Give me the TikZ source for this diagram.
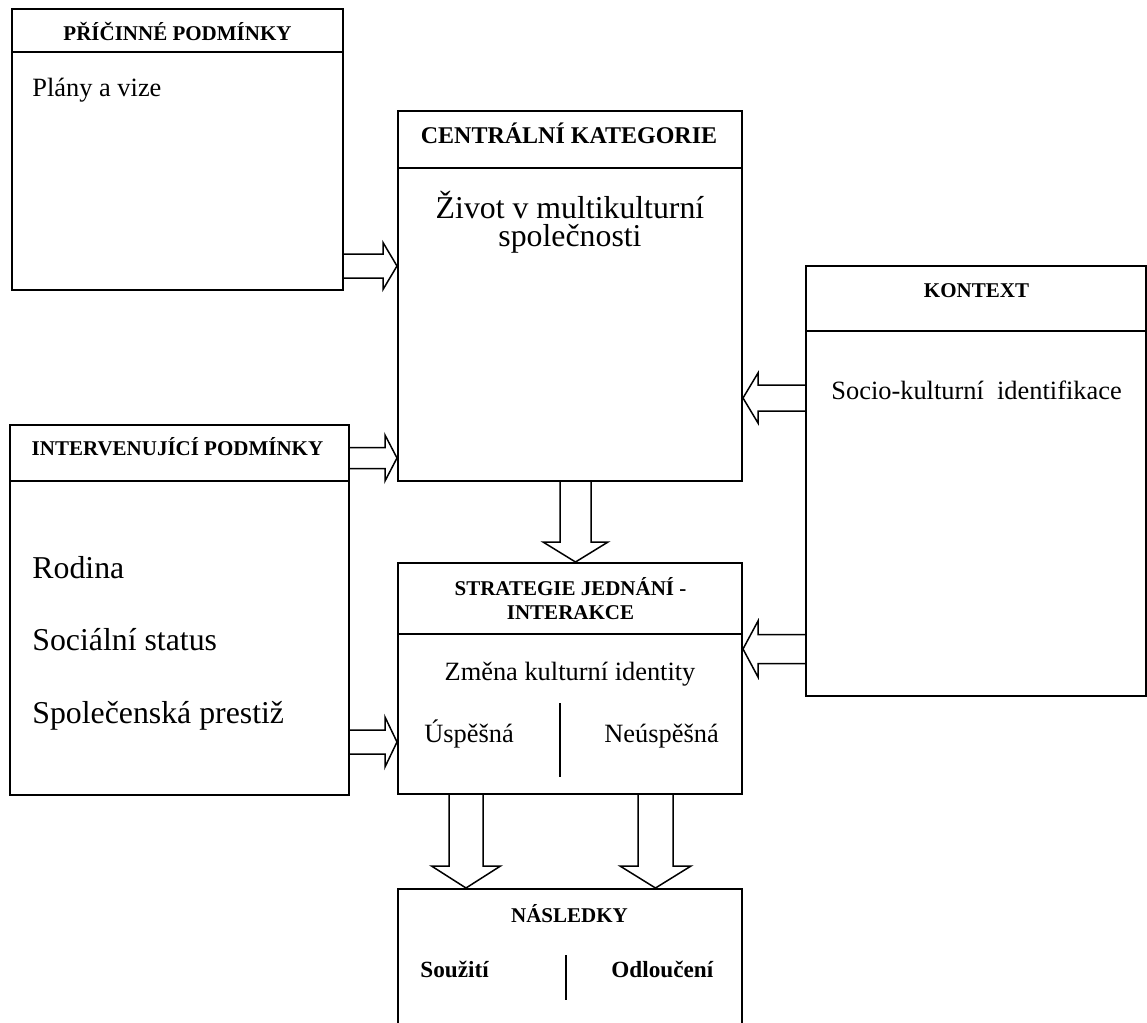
\documentclass[tikz,border=0pt]{standalone}
\usepackage{fontspec}
\setmainfont{Liberation Serif}
\usetikzlibrary{calc}
\tikzset{
  box/.style={draw, line width=1pt, inner sep=0pt, rectangle},
  sep/.style={line width=1pt},
  blk/.style={draw, line width=0.75pt, line join=miter},
  hd/.style={inner sep=0pt, anchor=base, font=\fontsize{10.5}{12}\selectfont\bfseries},
  bodyl/.style={inner sep=0pt, anchor=base west, font=\fontsize{13.2}{15}\selectfont},
  bodyc/.style={inner sep=0pt, anchor=base, font=\fontsize{13.2}{15}\selectfont},
  big/.style={inner sep=0pt, anchor=base, font=\fontsize{15.9}{14}\selectfont},
  bigl/.style={inner sep=0pt, anchor=base west, font=\fontsize{15.9}{18}\selectfont},
  subb/.style={inner sep=0pt, anchor=base west, font=\fontsize{11.6}{13}\selectfont\bfseries}
}
% horizontal block arrow: start, tip, shaft half, head half, head length (pt)
\newcommand\harr[5]{%
  \path ($(#2)!#5!(#1)$) coordinate (hb);
  \draw[blk] ($(#1)+(0,#3)$) -- ($(hb)+(0,#3)$) -- ($(hb)+(0,#4)$) -- (#2)
    -- ($(hb)+(0,-#4)$) -- ($(hb)+(0,-#3)$) -- ($(#1)+(0,-#3)$);}
% vertical block arrow
\newcommand\varr[5]{%
  \path ($(#2)!#5!(#1)$) coordinate (hb);
  \draw[blk] ($(#1)+(#3,0)$) -- ($(hb)+(#3,0)$) -- ($(hb)+(#4,0)$) -- (#2)
    -- ($(hb)+(-#4,0)$) -- ($(hb)+(-#3,0)$) -- ($(#1)+(-#3,0)$);}
\begin{document}
\begin{tikzpicture}[x=0.5pt,y=-0.5pt]
\useasboundingbox (0,0) rectangle (1147,1023);
\clip (0,0) rectangle (1147,1023);
\fill[white] (0,0) rectangle (1147,1023);

% boxes
\node[box, minimum width=165.5pt, minimum height=140.5pt] (b1) at (177.5,149.5) {};
\node[box, minimum width=172pt, minimum height=185pt] (b2) at (570,296) {};
\node[box, minimum width=170pt, minimum height=215pt] (b3) at (976,481) {};
\node[box, minimum width=169.5pt, minimum height=185pt] (b4) at (179.5,610) {};
\node[box, minimum width=172pt, minimum height=115.5pt] (b5) at (570,678.5) {};
\node[box, minimum width=172pt, minimum height=80.5pt] (b6) at (570,969.5) {};

% header separators
\draw[sep] (b1.west |- 0,52) -- (b1.east |- 0,52);
\draw[sep] (b2.west |- 0,168) -- (b2.east |- 0,168);
\draw[sep] (b3.west |- 0,331) -- (b3.east |- 0,331);
\draw[sep] (b4.west |- 0,481) -- (b4.east |- 0,481);
\draw[sep] (b5.west |- 0,634) -- (b5.east |- 0,634);

% texts
\node[hd] (h1) at (177.5,40) {PŘÍČINNÉ PODMÍNKY};
\node[bodyl] (t1) at (32,96) {Plány a vize};

\node[hd, font=\fontsize{12}{14}\selectfont\bfseries] (h2) at (569,143) {CENTRÁLNÍ KATEGORIE};
\node[big, align=center] (t2) at (570,246) {Život v multikulturní\\společnosti};

\node[hd] (h3) at (976.5,297) {KONTEXT};
\node[bodyl] (t3) at (831,399) {Socio-kulturní\ \ identifikace};

\node[hd] (h4) at (177.5,455) {INTERVENUJÍCÍ PODMÍNKY};
\node[bigl] (t4a) at (32,578) {Rodina};
\node[bigl] (t4b) at (32,650) {Sociální status};
\node[bigl] (t4c) at (32,723) {Společenská prestiž};

\node[hd, align=center] (h5) at (570.5,619) {STRATEGIE JEDNÁNÍ -\\INTERAKCE};
\node[bodyc] (t5) at (570,680) {Změna kulturní identity};
\node[bodyl] (t5a) at (424,742) {Úspěšná};
\node[bodyl] (t5b) at (604,742) {Neúspěšná};
\coordinate (d5t) at (560,703);
\coordinate (d5b) at (560,777);
\draw[line width=1pt] (d5t) -- (d5b);

\node[hd] (h6) at (569.5,922) {NÁSLEDKY};
\node[subb] (t6a) at (420,977) {Soužití};
\node[subb] (t6b) at (611,977) {Odloučení};
\coordinate (d6t) at (566,955);
\coordinate (d6b) at (566,1000);
\draw[line width=1pt] (d6t) -- (d6b);

% connector end points on box edges
\coordinate (a1s) at (b1.east |- 0,266);
\coordinate (a1e) at (b2.west |- 0,266);
\coordinate (a2s) at (b4.east |- 0,458);
\coordinate (a2e) at (b2.west |- 0,458);
\coordinate (a3s) at (b3.west |- 0,398);
\coordinate (a3e) at (b2.east |- 0,398);
\coordinate (a4s) at (b3.west |- 0,649);
\coordinate (a4e) at (b5.east |- 0,649);
\coordinate (a5s) at (b4.east |- 0,742);
\coordinate (a5e) at (b5.west |- 0,742);
\coordinate (a6s) at (b2.south -| 575.5,0);
\coordinate (a6e) at (b5.north -| 575.5,0);
\coordinate (a7s) at (b5.south -| 466,0);
\coordinate (a7e) at (b6.north -| 466,0);
\coordinate (a8s) at (b5.south -| 655.5,0);
\coordinate (a8e) at (b6.north -| 655.5,0);

% block arrows
\harr{a1s}{a1e}{12}{23.5}{7pt}
\harr{a2s}{a2e}{10.5}{23}{6pt}
\harr{a3s}{a3e}{13}{25}{7.5pt}
\harr{a4s}{a4e}{14.5}{28}{7.5pt}
\harr{a5s}{a5e}{12}{25}{6pt}
\varr{a6s}{a6e}{15.5}{32.5}{10pt}
\varr{a7s}{a7e}{17}{34.5}{11pt}
\varr{a8s}{a8e}{17.5}{35.5}{11pt}
\end{tikzpicture}
\end{document}
